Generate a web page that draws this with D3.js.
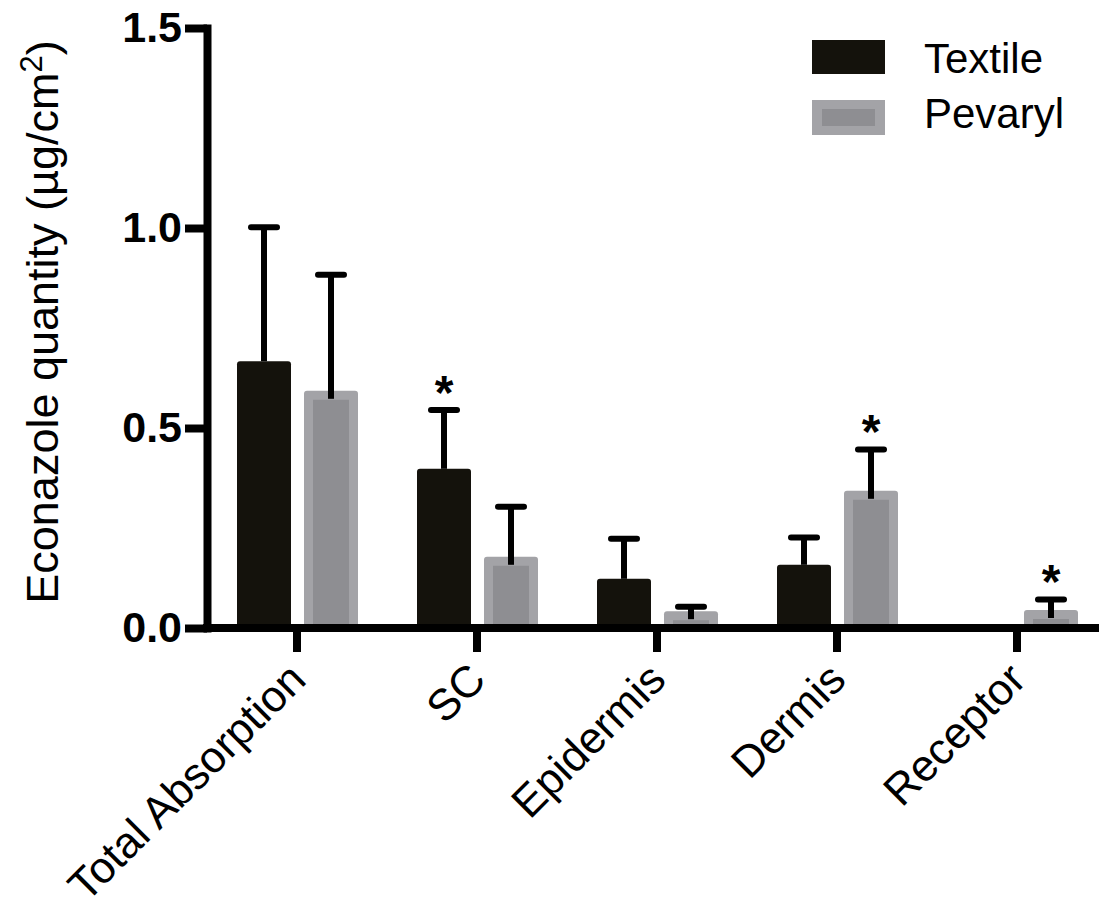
<!DOCTYPE html>
<html>
<head>
<meta charset="utf-8">
<script src="https://cdn.jsdelivr.net/npm/d3@7"></script>
<style>
  html, body { margin: 0; padding: 0; background: #fff; }
  svg { display: block; font-family: "Liberation Sans", Arial, sans-serif; }
</style>
</head>
<body>
<svg id="chart" width="1099" height="909"></svg>
<script>
const categories = ["Total Absorption", "SC", "Epidermis", "Dermis", "Receptor"];
const seriesNames = ["Textile", "Pevaryl"];
const textileMean = [0.667, 0.398, 0.123, 0.158, 0.0];
const textileErr  = [1.002, 0.545, 0.223, 0.226, 0.0];
const pevarylMean = [0.593, 0.178, 0.042, 0.343, 0.045];
const pevarylErr  = [0.883, 0.303, 0.053, 0.446, 0.071];
const textileStar = [false, true, false, false, false];
const pevarylStar = [false, false, false, true, true];
const yTicks = [0, 0.5, 1.0, 1.5];
const yTickLabels = ["0.0", "0.5", "1.0", "1.5"];

const svg = d3.select("#chart");
const axisX = 207, baseY = 628, topY = 28;

const y = d3.scaleLinear().domain([0, 1.5]).range([baseY, topY]);
const x = d3.scaleBand().domain(categories).range([axisX, axisX + 900]).padding(0);
const xs = d3.scaleBand().domain(seriesNames).range([-60, 61]).paddingInner(13/67).paddingOuter(0);

const data = [];
categories.forEach((c, i) => {
  data.push({cat: c, s: "Textile", v: textileMean[i], e: textileErr[i], star: textileStar[i]});
  data.push({cat: c, s: "Pevaryl", v: pevarylMean[i], e: pevarylErr[i], star: pevarylStar[i]});
});

const bw = xs.bandwidth();
const cx = d => x(d.cat) + x.bandwidth()/2 + xs(d.s);

// bars
const g = svg.append("g");
data.filter(d => d.v > 0).forEach(d => {
  const x0 = cx(d), y0 = y(d.v), h = baseY - y0;
  if (d.s === "Textile") {
    g.append("rect").attr("x", x0).attr("y", y0).attr("width", bw).attr("height", h)
      .attr("rx", 3).attr("fill", "#14120c");
  } else {
    g.append("rect").attr("x", x0).attr("y", y0).attr("width", bw).attr("height", h)
      .attr("rx", 3).attr("fill", "#a3a3a7");
    const ins = 9;
    g.append("rect").attr("x", x0 + ins).attr("y", y0 + ins).attr("width", bw - 2*ins)
      .attr("height", Math.max(0, h - ins)).attr("fill", "#8e8e92");
  }
});

// error bars
data.filter(d => d.e > d.v).forEach(d => {
  const mx = cx(d) + bw/2;
  g.append("line").attr("x1", mx).attr("x2", mx).attr("y1", y(d.v) + (d.s === "Pevaryl" ? 8 : 0)).attr("y2", y(d.e))
    .attr("stroke", "#000").attr("stroke-width", 6);
  g.append("line").attr("x1", mx - 13).attr("x2", mx + 13).attr("y1", y(d.e)).attr("y2", y(d.e))
    .attr("stroke", "#000").attr("stroke-width", 6).attr("stroke-linecap", "round");
  if (d.star) {
    g.append("text").attr("x", mx).attr("y", y(d.e) - 31).attr("dy", "0.62em")
      .attr("text-anchor", "middle").attr("font-size", 48).attr("font-weight", "bold").text("*");
  }
});

// y axis
const yAxis = d3.axisLeft(y).tickValues(yTicks).tickFormat((d, i) => yTickLabels[i]).tickSize(22).tickSizeOuter(0);
const ya = svg.append("g").attr("transform", `translate(${axisX},0)`).call(yAxis);
ya.select(".domain").attr("stroke", "#000").attr("stroke-width", 8).attr("stroke-linecap", "square");
ya.selectAll(".tick line").attr("stroke", "#000").attr("stroke-width", 8);
ya.selectAll(".tick text").attr("font-family", "'Liberation Sans', Arial, sans-serif")
  .attr("font-size", 43).attr("font-weight", "bold").attr("fill", "#000").attr("x", -25);

// x axis
const xAxis = d3.axisBottom(x).tickSize(24).tickSizeOuter(0).tickFormat("");
const xa = svg.append("g").attr("transform", `translate(0,${baseY})`).call(xAxis);
xa.select(".domain").attr("d", `M${axisX - 4},0H1099`).attr("stroke", "#000").attr("stroke-width", 8);
xa.selectAll(".tick line").attr("stroke", "#000").attr("stroke-width", 8);
xa.selectAll(".tick").append("text")
  .attr("transform", "translate(11,54) rotate(-45)")
  .attr("text-anchor", "end")
  .attr("font-size", 44).attr("fill", "#000")
  .attr("font-family", "'Liberation Sans', Arial, sans-serif")
  .text(d => d);

// y title
svg.append("text")
  .attr("transform", `translate(58,322) rotate(-90)`)
  .attr("text-anchor", "middle").attr("font-size", 45).attr("fill", "#000")
  .html('Econazole quantity (µg/cm<tspan dy="-16" font-size="31">2</tspan><tspan dy="16">)</tspan>');

// legend
const leg = svg.append("g");
leg.append("rect").attr("x", 812).attr("y", 40).attr("width", 73).attr("height", 34).attr("fill", "#14120c");
leg.append("rect").attr("x", 812).attr("y", 100).attr("width", 73).attr("height", 35).attr("fill", "#a3a3a7");
leg.append("rect").attr("x", 822).attr("y", 109).attr("width", 53).attr("height", 17).attr("fill", "#8e8e92");
leg.append("text").attr("x", 924).attr("y", 73).attr("font-size", 42).text(seriesNames[0]);
leg.append("text").attr("x", 924).attr("y", 128).attr("font-size", 42).text(seriesNames[1]);
</script>
</body>
</html>
